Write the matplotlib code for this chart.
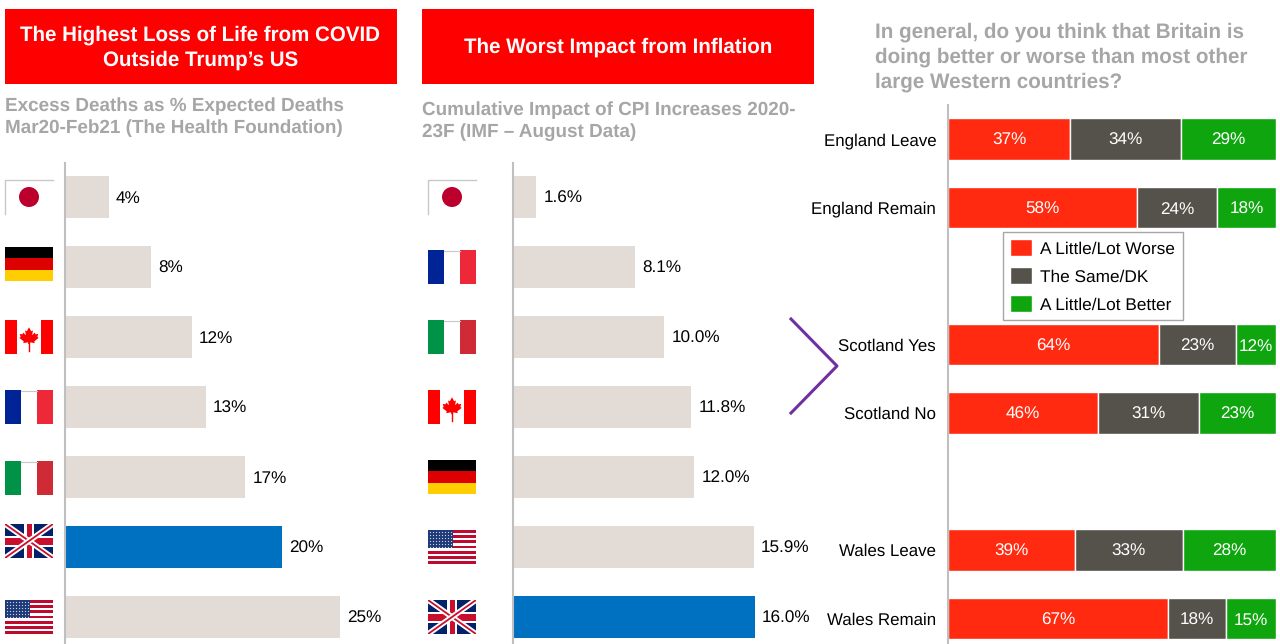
#!/usr/bin/env python3
import matplotlib
matplotlib.use('Agg')
import matplotlib.pyplot as plt
from matplotlib.patches import Rectangle, Polygon, Circle

plt.rcParams['font.family'] = ['Liberation Sans', 'DejaVu Sans']
plt.rcParams['text.hinting'] = 'no_hinting'

W, H = 1280, 644

# left chart
covid_flags = ['japan', 'germany', 'canada', 'france', 'italy', 'uk', 'us']
covid_flag_shift = [0, -3, 0, 0, 1, -6, 0]
covid_values = [4.0, 7.8, 11.5, 12.8, 16.4, 19.7, 25.0]
covid_labels = ['4%', '8%', '12%', '13%', '17%', '20%', '25%']

# middle chart
cpi_flags = ['japan', 'france', 'italy', 'canada', 'germany', 'us', 'uk']
cpi_flag_shift = [0, 0, 0, 0, 0, 0, 0]
cpi_values = [1.55, 8.1, 10.0, 11.8, 12.0, 15.95, 16.0]
cpi_labels = ['1.6%', '8.1%', '10.0%', '11.8%', '12.0%', '15.9%', '16.0%']

# right chart, empty names are the gaps between groups
groups = ['England Leave', 'England Remain', '', 'Scotland Yes', 'Scotland No', '',
          'Wales Leave', 'Wales Remain']
worse = [37.2, 57.6, 0, 64.3, 45.7, 0, 38.7, 67.0]
same = [33.8, 24.4, 0, 23.4, 30.8, 0, 32.9, 17.7]
better = [29.0, 18.0, 0, 12.2, 23.4, 0, 28.4, 15.3]

BEIGE = '#E3DBD6'
BLUE = '#0070C0'
AXIS = '#BFBFBF'
TITLE_GREY = '#A6A6A6'
RED = '#FF2A10'
DARK = '#54524A'
GREEN = '#0FA50F'

fig = plt.figure(figsize=(W / 100, H / 100), dpi=100)


def px_axes(x0, y0, x1, y1):
    # pixel box measured from the top left corner of the picture
    return fig.add_axes([x0 / W, 1 - y1 / H, (x1 - x0) / W, (y1 - y0) / H])


# overlay in pixels for headers, flags and the bracket
bg = fig.add_axes([0, 0, 1, 1], zorder=0)
bg.set_xlim(0, W)
bg.set_ylim(H, 0)
bg.axis('off')


def rect(x, y, w, h, c):
    bg.add_patch(Rectangle((x, y), w, h, fc=c, ec='none'))


def stripes_v(x, y, w, h, cols):
    for i, c in enumerate(cols):
        rect(x + i * w / 3, y, w / 3, h, c)
    bg.plot([x + w / 3, x + 2 * w / 3], [y + 0.5, y + 0.5], color='#C8C8C8', lw=0.8)


def draw_flag(name, x, yc):
    w, h = 48, 34
    y = yc - h / 2
    if name == 'japan':
        bg.plot([x, x, x + w], [y + h, y, y], color='#C8C8C8', lw=1)
        bg.add_patch(Circle((x + w / 2, yc), 10, fc='#BC002D', ec='none'))
    elif name == 'germany':
        rect(x, y, w, h / 3, '#000000')
        rect(x, y + h / 3, w, h / 3, '#DD0000')
        rect(x, y + 2 * h / 3, w, h / 3, '#FFCE00')
    elif name == 'france':
        stripes_v(x, y, w, h, ['#002395', '#FFFFFF', '#ED2939'])
    elif name == 'italy':
        stripes_v(x, y, w, h, ['#009246', '#FFFFFF', '#CE2B37'])
    elif name == 'canada':
        rect(x, y, 12, h, '#FF0000')
        rect(x + w - 12, y, 12, h, '#FF0000')
        cx = x + w / 2
        leaf = [(0, -11), (2.5, -6.5), (4.5, -7.5), (3.5, -2), (6.5, -5), (7.5, -3),
                (10.5, -3.5), (9.5, 0), (11, 1), (6, 5), (6.5, 7), (1, 6), (1, 8),
                (-1, 8), (-1, 6), (-6.5, 7), (-6, 5), (-11, 1), (-9.5, 0), (-10.5, -3.5),
                (-7.5, -3), (-6.5, -5), (-3.5, -2), (-4.5, -7.5), (-2.5, -6.5)]
        bg.add_patch(Polygon([(cx + a * 0.88, yc + b * 0.88) for a, b in leaf], fc='#FF0000', ec='none'))
        bg.plot([cx, cx], [yc + 5, yc + 14], color='#FF0000', lw=1)
    elif name == 'uk':
        rect(x, y, w, h, '#012169')
        clip = Rectangle((x, y), w, h, transform=bg.transData)
        for a, b in [((x, y), (x + w, y + h)), ((x, y + h), (x + w, y))]:
            ln, = bg.plot([a[0], b[0]], [a[1], b[1]], color='white', lw=4.0)
            ln.set_clip_path(clip)
            ln, = bg.plot([a[0], b[0]], [a[1], b[1]], color='#C8102E', lw=1.3)
            ln.set_clip_path(clip)
        rect(x + w / 2 - 5, y, 10, h, 'white')
        rect(x, yc - 5.5, w, 11, 'white')
        rect(x + w / 2 - 2.5, y, 5, h, '#C8102E')
        rect(x, yc - 3.5, w, 7, '#C8102E')
    elif name == 'us':
        for i in range(13):
            rect(x, y + i * h / 13, w, h / 13, '#BF0A30' if i % 2 == 0 else '#FFFFFF')
        rect(x, y, 25, 18, '#1F3A78')
        for r in range(6):
            for c in range(8):
                bg.plot(x + 2 + c * 3, y + 2 + r * 3, 's', ms=0.8, color='#C8D0E4', mew=0)


def hbars(x0, x1, per_unit, values, labels, flags, shifts, flag_x):
    ax = px_axes(x0, 163, x1, 644)
    colors = [BLUE if f == 'uk' else BEIGE for f in flags]
    pos = list(range(len(values)))
    ax.barh(pos, values, height=0.6, color=colors, left=0)
    ax.set_xlim(0, (x1 - x0) / per_unit)
    ax.set_ylim((644 - 197) / 70, (163 - 197) / 70)
    ax.patch.set_alpha(0)
    for s in ['top', 'right', 'bottom']:
        ax.spines[s].set_visible(False)
    ax.spines['left'].set_color(AXIS)
    ax.spines['left'].set_linewidth(1.5)
    ax.set_xticks([])
    ax.set_yticks([])
    for p, v, t in zip(pos, values, labels):
        ax.annotate(t, (v, p), xytext=(7, 0), textcoords='offset pixels', va='center_baseline',
                    ha='left', fontsize=12.3, color='black')
    for p, f, sh in zip(pos, flags, shifts):
        draw_flag(f, flag_x, 197 + 70 * p + sh)


# headers
rect(5, 9, 392, 75, '#FF0000')
rect(422, 9, 392, 75, '#FF0000')
bg.text(200.5, 47.5, 'The Highest Loss of Life from COVID\nOutside Trump\u2019s US', color='white',
        fontsize=14.8, fontweight='bold', ha='center', va='center', linespacing=1.37)
bg.text(618, 47.5, 'The Worst Impact from Inflation', color='white', fontsize=14.8,
        fontweight='bold', ha='center', va='center')

bg.text(5, 117, 'Excess Deaths as % Expected Deaths\nMar20-Feb21 (The Health Foundation)',
        color=TITLE_GREY, fontsize=13.55, fontweight='bold', ha='left', va='center', linespacing=1.33)
bg.text(422, 121, 'Cumulative Impact of CPI Increases 2020-\n23F (IMF \u2013 August Data)',
        color=TITLE_GREY, fontsize=13.55, fontweight='bold', ha='left', va='center', linespacing=1.33)
bg.text(875, 57, 'In general, do you think that Britain is\ndoing better or worse than most other\nlarge Western countries?',
        color=TITLE_GREY, fontsize=14.85, fontweight='bold', ha='left', va='center', linespacing=1.37)

hbars(65, 420, 11.0, covid_values, covid_labels, covid_flags, covid_flag_shift, 5)
hbars(513, 830, 15.12, cpi_values, cpi_labels, cpi_flags, cpi_flag_shift, 428)

# stacked chart
ax3 = px_axes(948, 105, 1276, 644)
ypos = list(range(len(groups)))
left2 = [a for a in worse]
left3 = [a + b for a, b in zip(worse, same)]
b1 = ax3.barh(ypos, worse, height=0.61, color=RED, edgecolor='white', linewidth=1, label='A Little/Lot Worse')
b2 = ax3.barh(ypos, same, left=left2, height=0.61, color=DARK, edgecolor='white', linewidth=1, label='The Same/DK')
b3 = ax3.barh(ypos, better, left=left3, height=0.61, color=GREEN, edgecolor='white', linewidth=1, label='A Little/Lot Better')
ax3.set_xlim(0, 100)
ax3.set_ylim((644 - 139) / 68.5, (105 - 139) / 68.5)
ax3.patch.set_alpha(0)
for s in ['top', 'right', 'bottom']:
    ax3.spines[s].set_visible(False)
ax3.spines['left'].set_color(AXIS)
ax3.spines['left'].set_linewidth(1.5)
ax3.set_xticks([])
ax3.set_yticks([i for i, g in enumerate(groups) if g])
ax3.set_yticklabels([g for g in groups if g], fontsize=12.2, color='black')
ax3.tick_params(axis='y', length=0, pad=8.5)
for i, g in enumerate(groups):
    if not g:
        continue
    ax3.text(worse[i] / 2, i, f'{worse[i]:.0f}%', color='white', fontsize=12.3, ha='center', va='center_baseline')
    ax3.text(left2[i] + same[i] / 2, i, f'{same[i]:.0f}%', color='white', fontsize=12.3, ha='center', va='center_baseline')
    ax3.text(left3[i] + better[i] / 2, i, f'{better[i]:.0f}%', color='white', fontsize=12.3, ha='center', va='center_baseline')

leg = ax3.legend(handles=[b1, b2, b3], loc='upper left', bbox_to_anchor=(1003 / W, 1 - 232 / H),
                 bbox_transform=fig.transFigure, fontsize=12.45, frameon=True, fancybox=False,
                 framealpha=1, edgecolor='#A6A6A6', borderaxespad=0, handlelength=1.28,
                 handleheight=1.15, labelspacing=0.58, handletextpad=0.46, borderpad=0.42)
leg.get_frame().set_linewidth(1)

# purple bracket
bg.plot([791, 837, 791], [319, 366, 413], color='#7030A0', lw=2.2)

fig.savefig('out.png', dpi=100)
